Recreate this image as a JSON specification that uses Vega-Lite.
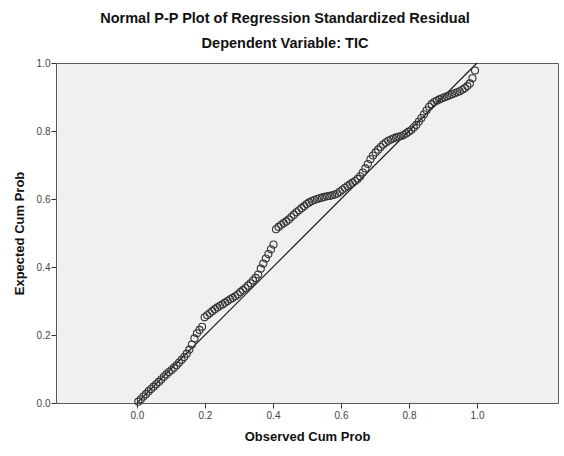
{
  "$schema": "https://vega.github.io/schema/vega-lite/v6.json",
  "width": 502,
  "height": 340,
  "autosize": {"type": "none"},
  "padding": {"left": 56, "top": 63, "right": 6, "bottom": 53},
  "background": "white",
  "title": {
    "text": "Normal P-P Plot of Regression Standardized Residual",
    "subtitle": "Dependent Variable: TIC",
    "anchor": "middle",
    "frame": "group",
    "dx": -22,
    "offset": 7,
    "font": "Liberation Sans",
    "fontSize": 14.5,
    "fontWeight": "bold",
    "color": "#111111",
    "subtitleFont": "Liberation Sans",
    "subtitleFontSize": 14.5,
    "subtitleFontWeight": "bold",
    "subtitleColor": "#111111",
    "subtitlePadding": 10
  },
  "config": {
    "view": {"fill": "#f0f0f0", "stroke": "#5a5a5a", "strokeWidth": 1},
    "axis": {
      "grid": false,
      "domain": false,
      "ticks": true,
      "tickColor": "#333333",
      "tickSize": 5,
      "labelFont": "Liberation Sans",
      "labelFontSize": 10,
      "labelColor": "#444444",
      "titleFont": "Liberation Sans",
      "titleFontSize": 13,
      "titleFontWeight": "bold",
      "titleColor": "#111111"
    }
  },
  "datasets": {
    "pp": [
      {"observed": 0.004, "expected": 0.004},
      {"observed": 0.0115, "expected": 0.011},
      {"observed": 0.019, "expected": 0.019},
      {"observed": 0.0265, "expected": 0.026},
      {"observed": 0.034, "expected": 0.034},
      {"observed": 0.0415, "expected": 0.041},
      {"observed": 0.049, "expected": 0.048},
      {"observed": 0.0565, "expected": 0.055},
      {"observed": 0.064, "expected": 0.062},
      {"observed": 0.0715, "expected": 0.069},
      {"observed": 0.079, "expected": 0.077},
      {"observed": 0.0865, "expected": 0.084},
      {"observed": 0.094, "expected": 0.091},
      {"observed": 0.1015, "expected": 0.097},
      {"observed": 0.109, "expected": 0.104},
      {"observed": 0.1165, "expected": 0.111},
      {"observed": 0.124, "expected": 0.119},
      {"observed": 0.1315, "expected": 0.127},
      {"observed": 0.139, "expected": 0.135},
      {"observed": 0.1465, "expected": 0.145},
      {"observed": 0.154, "expected": 0.157},
      {"observed": 0.1615, "expected": 0.172},
      {"observed": 0.169, "expected": 0.19},
      {"observed": 0.1765, "expected": 0.205},
      {"observed": 0.184, "expected": 0.215},
      {"observed": 0.1915, "expected": 0.224},
      {"observed": 0.199, "expected": 0.252},
      {"observed": 0.2065, "expected": 0.258},
      {"observed": 0.214, "expected": 0.264},
      {"observed": 0.2215, "expected": 0.27},
      {"observed": 0.229, "expected": 0.276},
      {"observed": 0.2365, "expected": 0.281},
      {"observed": 0.244, "expected": 0.286},
      {"observed": 0.2515, "expected": 0.29},
      {"observed": 0.259, "expected": 0.295},
      {"observed": 0.2665, "expected": 0.3},
      {"observed": 0.274, "expected": 0.305},
      {"observed": 0.2815, "expected": 0.309},
      {"observed": 0.289, "expected": 0.314},
      {"observed": 0.2965, "expected": 0.319},
      {"observed": 0.304, "expected": 0.326},
      {"observed": 0.3115, "expected": 0.332},
      {"observed": 0.319, "expected": 0.338},
      {"observed": 0.3265, "expected": 0.345},
      {"observed": 0.334, "expected": 0.352},
      {"observed": 0.3415, "expected": 0.36},
      {"observed": 0.349, "expected": 0.368},
      {"observed": 0.3565, "expected": 0.378},
      {"observed": 0.364, "expected": 0.395},
      {"observed": 0.3715, "expected": 0.41},
      {"observed": 0.379, "expected": 0.425},
      {"observed": 0.3865, "expected": 0.438},
      {"observed": 0.394, "expected": 0.452},
      {"observed": 0.4015, "expected": 0.466},
      {"observed": 0.409, "expected": 0.511},
      {"observed": 0.4165, "expected": 0.518},
      {"observed": 0.424, "expected": 0.524},
      {"observed": 0.4315, "expected": 0.529},
      {"observed": 0.439, "expected": 0.534},
      {"observed": 0.4465, "expected": 0.54},
      {"observed": 0.454, "expected": 0.547},
      {"observed": 0.4615, "expected": 0.554},
      {"observed": 0.469, "expected": 0.561},
      {"observed": 0.4765, "expected": 0.567},
      {"observed": 0.484, "expected": 0.573},
      {"observed": 0.4915, "expected": 0.579},
      {"observed": 0.499, "expected": 0.585},
      {"observed": 0.5065, "expected": 0.59},
      {"observed": 0.514, "expected": 0.594},
      {"observed": 0.5215, "expected": 0.597},
      {"observed": 0.529, "expected": 0.6},
      {"observed": 0.5365, "expected": 0.602},
      {"observed": 0.544, "expected": 0.604},
      {"observed": 0.5515, "expected": 0.606},
      {"observed": 0.559, "expected": 0.608},
      {"observed": 0.5665, "expected": 0.609},
      {"observed": 0.574, "expected": 0.611},
      {"observed": 0.5815, "expected": 0.613},
      {"observed": 0.589, "expected": 0.616},
      {"observed": 0.5965, "expected": 0.621},
      {"observed": 0.604, "expected": 0.627},
      {"observed": 0.6115, "expected": 0.633},
      {"observed": 0.619, "expected": 0.638},
      {"observed": 0.6265, "expected": 0.643},
      {"observed": 0.634, "expected": 0.648},
      {"observed": 0.6415, "expected": 0.653},
      {"observed": 0.649, "expected": 0.659},
      {"observed": 0.6565, "expected": 0.667},
      {"observed": 0.664, "expected": 0.678},
      {"observed": 0.6715, "expected": 0.69},
      {"observed": 0.679, "expected": 0.703},
      {"observed": 0.6865, "expected": 0.717},
      {"observed": 0.694, "expected": 0.728},
      {"observed": 0.7015, "expected": 0.737},
      {"observed": 0.709, "expected": 0.745},
      {"observed": 0.7165, "expected": 0.753},
      {"observed": 0.724, "expected": 0.76},
      {"observed": 0.7315, "expected": 0.766},
      {"observed": 0.739, "expected": 0.771},
      {"observed": 0.7465, "expected": 0.775},
      {"observed": 0.754, "expected": 0.778},
      {"observed": 0.7615, "expected": 0.781},
      {"observed": 0.769, "expected": 0.783},
      {"observed": 0.7765, "expected": 0.785},
      {"observed": 0.784, "expected": 0.788},
      {"observed": 0.7915, "expected": 0.793},
      {"observed": 0.799, "expected": 0.798},
      {"observed": 0.8065, "expected": 0.803},
      {"observed": 0.814, "expected": 0.81},
      {"observed": 0.8215, "expected": 0.818},
      {"observed": 0.829, "expected": 0.828},
      {"observed": 0.8365, "expected": 0.838},
      {"observed": 0.844, "expected": 0.849},
      {"observed": 0.8515, "expected": 0.861},
      {"observed": 0.859, "expected": 0.871},
      {"observed": 0.8665, "expected": 0.879},
      {"observed": 0.874, "expected": 0.885},
      {"observed": 0.8815, "expected": 0.889},
      {"observed": 0.889, "expected": 0.893},
      {"observed": 0.8965, "expected": 0.896},
      {"observed": 0.904, "expected": 0.899},
      {"observed": 0.9115, "expected": 0.902},
      {"observed": 0.919, "expected": 0.905},
      {"observed": 0.9265, "expected": 0.908},
      {"observed": 0.934, "expected": 0.911},
      {"observed": 0.9415, "expected": 0.914},
      {"observed": 0.949, "expected": 0.917},
      {"observed": 0.9565, "expected": 0.921},
      {"observed": 0.964, "expected": 0.926},
      {"observed": 0.9715, "expected": 0.932},
      {"observed": 0.979, "expected": 0.94},
      {"observed": 0.9865, "expected": 0.955},
      {"observed": 0.994, "expected": 0.978}
    ],
    "reference": [
      {"observed": 0, "expected": 0},
      {"observed": 1, "expected": 1}
    ]
  },
  "layer": [
    {
      "data": {"name": "reference"},
      "mark": {"type": "line", "color": "#1a1a1a", "strokeWidth": 1.2},
      "encoding": {
        "x": {"field": "observed", "type": "quantitative"},
        "y": {"field": "expected", "type": "quantitative"}
      }
    },
    {
      "data": {"name": "pp"},
      "mark": {"type": "point", "shape": "circle", "filled": false, "size": 50, "stroke": "#333333", "strokeWidth": 1.1, "opacity": 1},
      "encoding": {
        "x": {
          "field": "observed",
          "type": "quantitative",
          "title": "Observed Cum Prob",
          "scale": {"domain": [-0.238, 1.238], "nice": false, "zero": false},
          "axis": {"values": [0, 0.2, 0.4, 0.6, 0.8, 1.0], "format": ".1f", "labelPadding": 2, "titlePadding": 10}
        },
        "y": {
          "field": "expected",
          "type": "quantitative",
          "title": "Expected Cum Prob",
          "scale": {"domain": [0, 1], "nice": false, "zero": false},
          "axis": {"values": [0, 0.2, 0.4, 0.6, 0.8, 1.0], "format": ".1f", "labelPadding": 1, "titlePadding": 10}
        }
      }
    }
  ]
}
